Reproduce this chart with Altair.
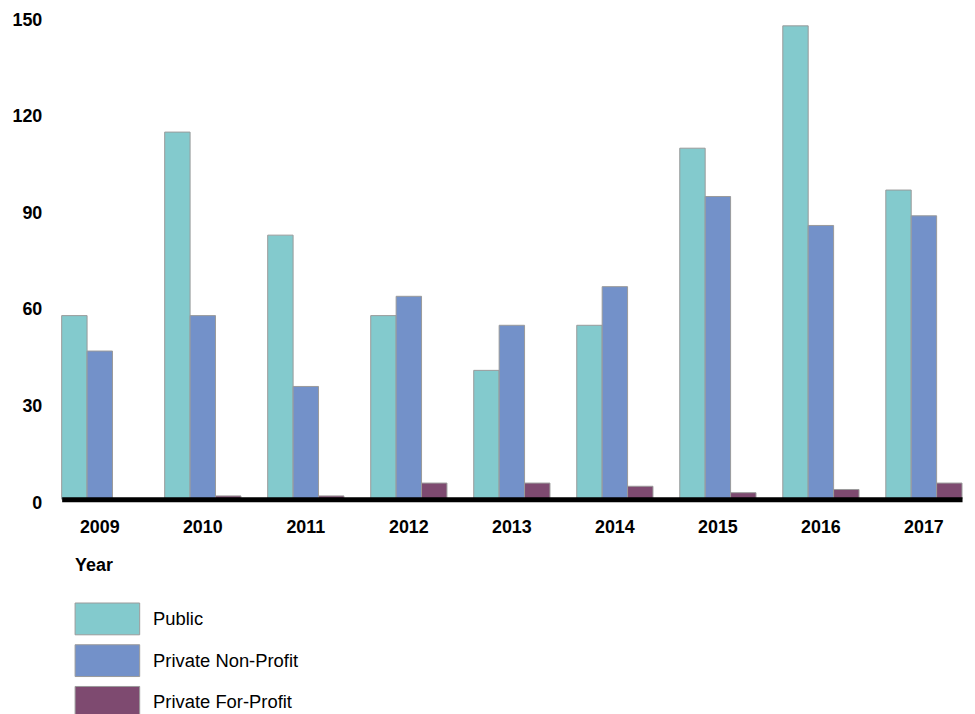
import altair as alt
import pandas as pd

years = ["2009", "2010", "2011", "2012", "2013", "2014", "2015", "2016", "2017"]
sectors = ["Public", "Private Non-Profit", "Private For-Profit"]
public = [57, 114, 82, 57, 40, 54, 109, 147, 96]
non_profit = [46, 57, 35, 63, 54, 66, 94, 85, 88]
for_profit = [0, 1, 1, 5, 5, 4, 2, 3, 5]
colors = ["#83CACD", "#7391C9", "#7E4A70"]

rows = []
for i, y in enumerate(years):
    rows.append({"Year": y, "Sector": sectors[0], "Value": public[i]})
    rows.append({"Year": y, "Sector": sectors[1], "Value": non_profit[i]})
    rows.append({"Year": y, "Sector": sectors[2], "Value": for_profit[i]})
df = pd.DataFrame(rows)

FONT = "Liberation Sans"

chart = alt.Chart(df).mark_bar(stroke="#9a9a9a", strokeWidth=1).encode(
    x=alt.X("Year:N", sort=years,
            scale=alt.Scale(paddingInner=0.26, paddingOuter=0),
            axis=alt.Axis(title="Year", labelAngle=0, ticks=False, domainColor="black",
                          domainWidth=5, labelPadding=20, labelFontSize=18,
                          labelFontWeight="bold", labelColor="black",
                          titleFontSize=18, titleFontWeight="bold", titleColor="black",
                          titleAnchor="start", titleAlign="left", titleX=13, titleY=72,
                          titleBaseline="alphabetic", zindex=1)),
    xOffset=alt.XOffset("Sector:N", sort=sectors, scale=alt.Scale(paddingInner=0, paddingOuter=0)),
    y=alt.Y("Value:Q", scale=alt.Scale(domain=[0, 150], nice=False),
            axis=alt.Axis(title=None, values=[0, 30, 60, 90, 120, 150], ticks=False,
                          domain=False, grid=False, labelPadding=20, labelFontSize=18,
                          labelFontWeight="bold", labelColor="black", labelOffset=4)),
    color=alt.Color("Sector:N", sort=sectors,
                    scale=alt.Scale(domain=sectors, range=colors),
                    legend=alt.Legend(title=None, orient="none", legendX=13, legendY=590,
                                      symbolType="M-1,-1H3.0625V1H-1Z", symbolSize=1024,
                                      symbolStrokeColor="#9a9a9a", symbolStrokeWidth=1,
                                      symbolOpacity=1,
                                      labelFontSize=18.5, labelOffset=46, labelColor="black",
                                      rowPadding=5, padding=0)),
).properties(
    width=906, height=486,
    autosize=alt.AutoSizeParams(type="none"),
    padding={"left": 54, "top": 6, "right": 5, "bottom": 220},
).configure(font=FONT).configure_view(stroke=None)

chart.save("out.html", embed_options={"renderer": "svg", "actions": False})
